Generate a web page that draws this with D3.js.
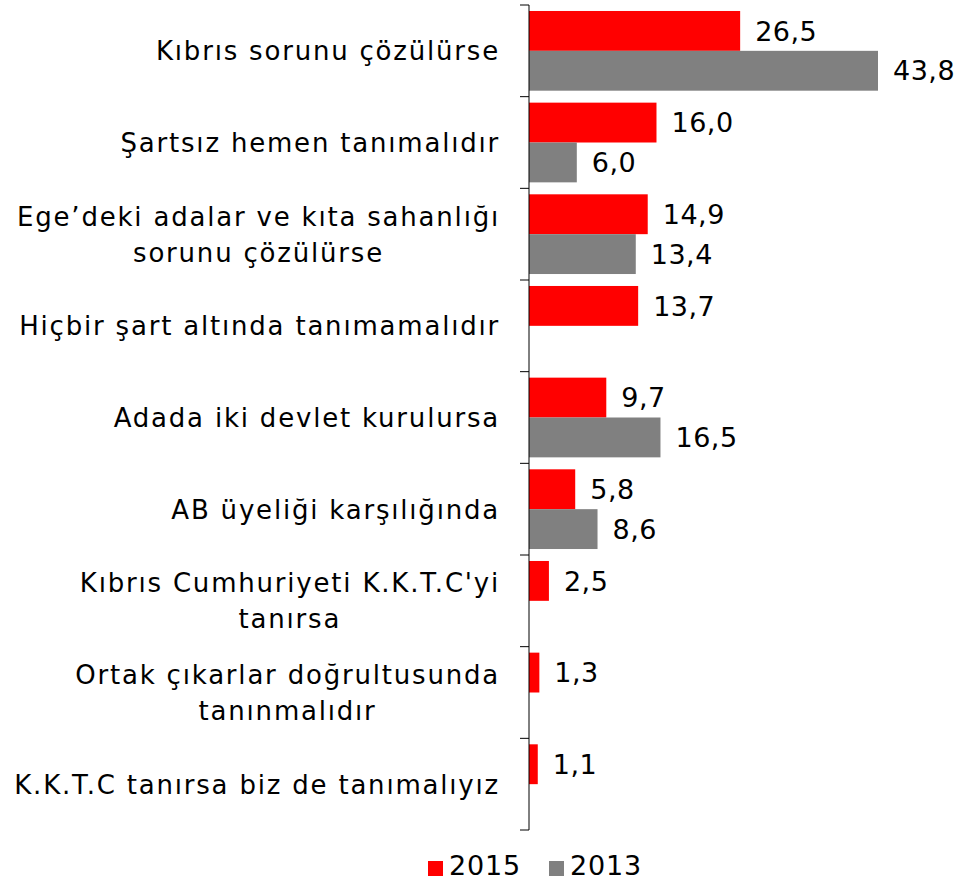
<!DOCTYPE html>
<html>
<head>
<meta charset="utf-8">
<script src="https://cdn.jsdelivr.net/npm/d3@7"></script>
<style>
  body { margin: 0; background: #fff; }
  text { font-family: 'DejaVu Sans', Verdana, sans-serif; fill: #000; }
</style>
</head>
<body>
<svg id="chart" width="957" height="882"></svg>
<script>
(function(){
'use strict';

// categories, top to bottom (each one a list of label lines)
var categories = [
    ['Kıbrıs sorunu çözülürse'],
    ['Şartsız hemen tanımalıdır'],
    ['Ege’deki adalar ve kıta sahanlığı', 'sorunu çözülürse'],
    ['Hiçbir şart altında tanımamalıdır'],
    ['Adada iki devlet kurulursa'],
    ['AB üyeliği karşılığında'],
    ['Kıbrıs Cumhuriyeti K.K.T.C\'yi', 'tanırsa'],
    ['Ortak çıkarlar doğrultusunda', 'tanınmalıdır'],
    ['K.K.T.C tanırsa biz de tanımalıyız']
];
var seriesNames = ['2015', '2013'];
var values2015 = [26.5, 16.0, 14.9, 13.7, 9.7, 5.8, 2.5, 1.3, 1.1];
var values2013 = [43.8, 6.0, 13.4, null, 16.5, 8.6, null, null, null];
var colors = ['#ff0000', '#808080'];

var svg = d3.select('#chart');
var axisX = 529, top = 5, bottom = 830;

var y = d3.scaleBand()
    .domain(d3.range(categories.length))
    .range([top, bottom]);

var inner = d3.scaleBand()
    .domain([0, 1])
    .range([0, y.bandwidth()])
    .paddingOuter(0.15)
    .paddingInner(0);

var x = d3.scaleLinear()
    .domain([0, 43.8])
    .range([axisX, 878]);

var series = [values2015, values2013];
var fmt = function(v){ return d3.format('.1f')(v).replace('.', ','); };

series.forEach(function(vals, s){
    var g = svg.append('g');
    var rows = vals.map(function(v, i){ return {v: v, i: i}; })
        .filter(function(d){ return d.v !== null; });

    g.selectAll('rect').data(rows).enter().append('rect')
        .attr('x', x(0))
        .attr('y', function(d){ return y(d.i) + inner(s); })
        .attr('width', function(d){ return x(d.v) - x(0); })
        .attr('height', inner.bandwidth())
        .attr('fill', colors[s]);

    g.selectAll('text').data(rows).enter().append('text')
        .attr('x', function(d){ return x(d.v) + 15; })
        .attr('y', function(d){ return y(d.i) + inner(s) + inner.bandwidth() / 2; })
        .attr('dy', '0.36em')
        .attr('font-size', 27)
        .attr('letter-spacing', 0.5)
        .text(function(d){ return fmt(d.v); });
});

// category axis
var axis = d3.axisLeft(y).tickSize(0).tickFormat('');
var ag = svg.append('g').attr('transform', 'translate(' + axisX + ',0)').call(axis);
ag.select('.domain').remove();
ag.append('line')
    .attr('x1', 0).attr('x2', 0)
    .attr('y1', top).attr('y2', bottom)
    .attr('stroke', '#000').attr('stroke-width', 1);
ag.selectAll('.cat-tick')
    .data(d3.range(categories.length + 1))
    .enter().append('line')
    .attr('x1', -9).attr('x2', 0)
    .attr('y1', function(i){ return top + i * y.step(); })
    .attr('y2', function(i){ return top + i * y.step(); })
    .attr('stroke', '#000').attr('stroke-width', 1);

// category labels, centered block, right edge at 500
var lineH = 36;
categories.forEach(function(lines, i){
    var cy = y(i) + y.bandwidth() / 2;
    var t = svg.append('text')
        .attr('font-size', 26)
        .attr('letter-spacing', 1.8)
        .attr('text-anchor', 'middle');
    lines.forEach(function(l, k){
        t.append('tspan')
            .attr('y', cy + (k - (lines.length - 1) / 2) * lineH)
            .attr('dy', '0.36em')
            .text(l);
    });
    // widest line sets where the block sits
    var w = 0;
    t.selectAll('tspan').each(function(){
        w = Math.max(w, this.getComputedTextLength());
    });
    t.selectAll('tspan').attr('x', 500 - w / 2);
});

// legend
var legend = svg.append('g');
var lx = [428, 549];
seriesNames.forEach(function(name, s){
    legend.append('rect')
        .attr('x', lx[s]).attr('y', 861)
        .attr('width', 15).attr('height', 15)
        .attr('fill', colors[s]);
    legend.append('text')
        .attr('x', lx[s] + 21).attr('y', 875)
        .attr('font-size', 27)
        .attr('letter-spacing', 0.8)
        .text(name);
});

})();
</script>
</body>
</html>
